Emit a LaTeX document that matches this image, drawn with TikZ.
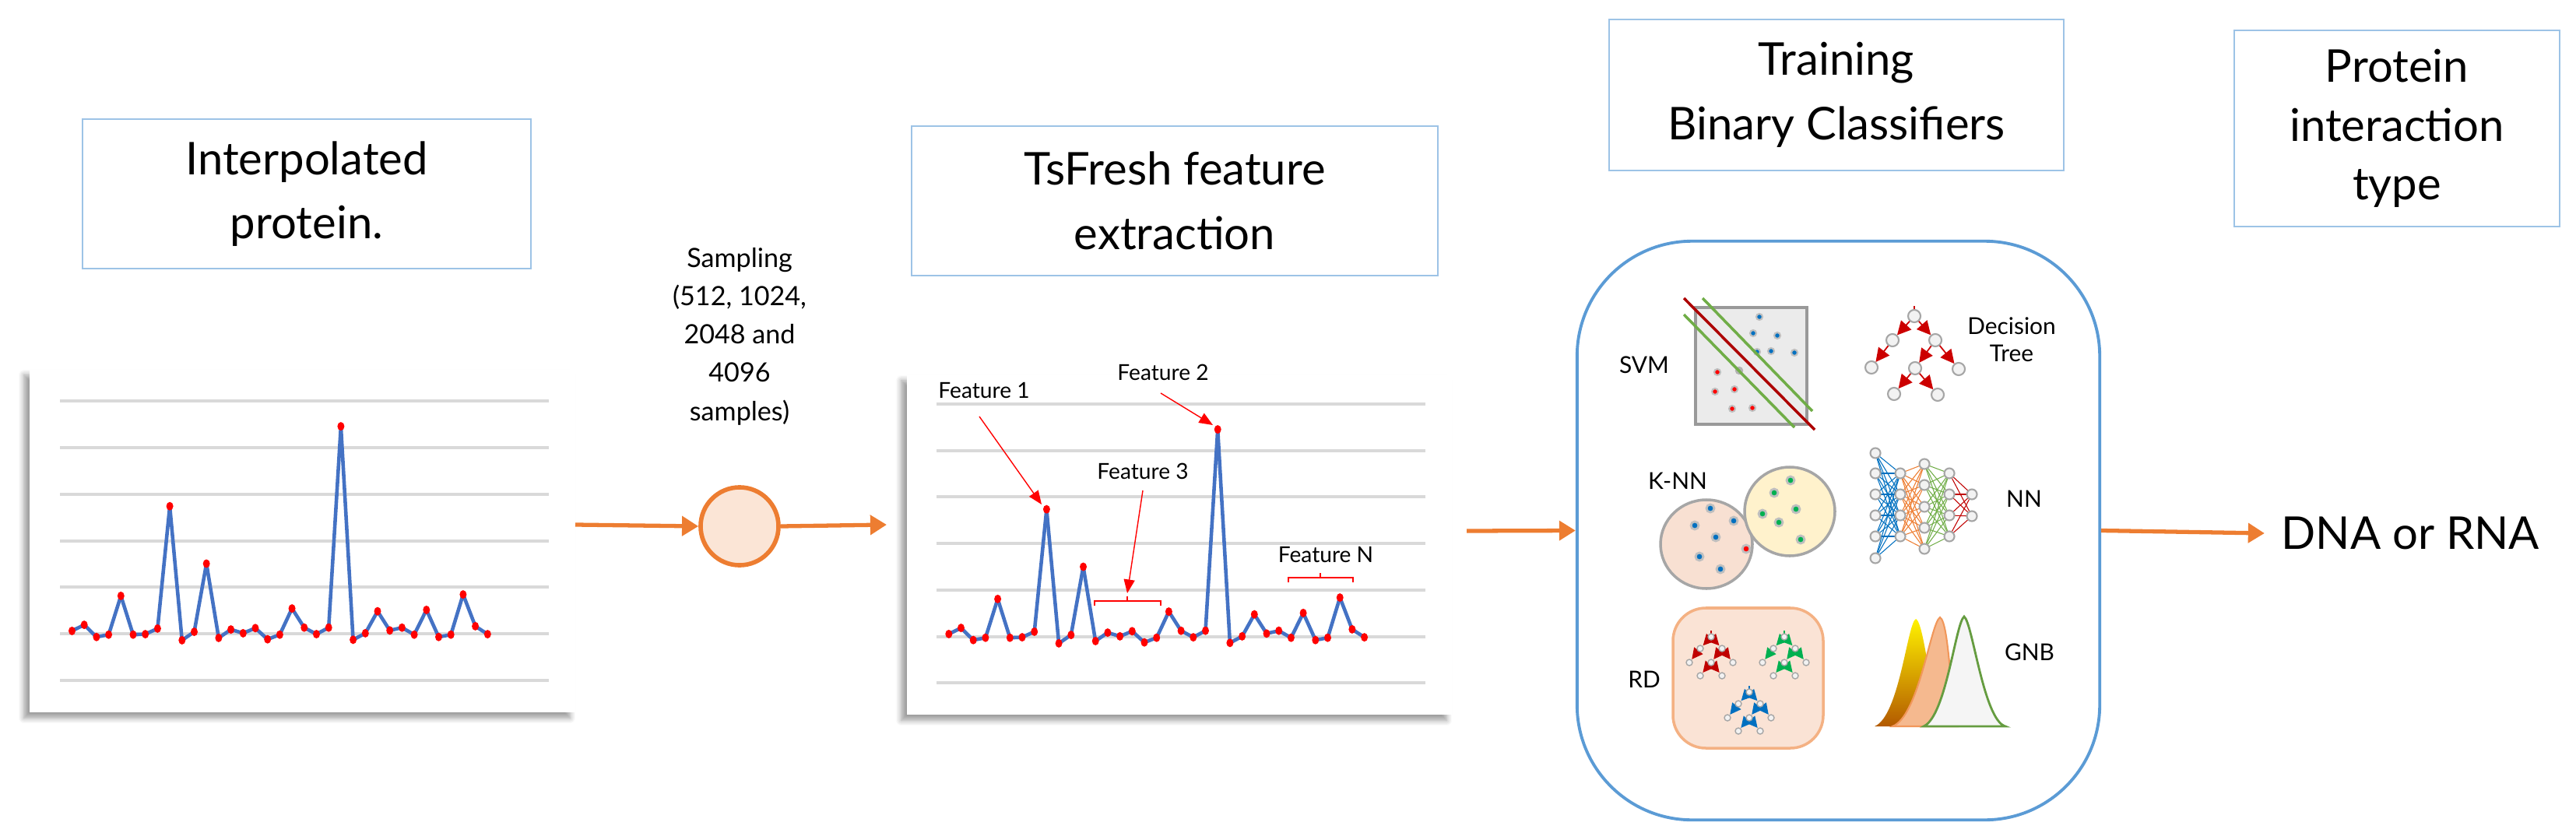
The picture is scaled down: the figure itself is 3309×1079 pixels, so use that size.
\documentclass[tikz,border=0pt]{standalone}
\usepackage{fontspec}
\setmainfont{Lato}
\usetikzlibrary{arrows.meta,shadows.blur}
\definecolor{orng}{HTML}{ED7D31}
\definecolor{peach}{HTML}{FBE5D6}
\definecolor{tbord}{HTML}{9DC3E6}
\definecolor{cbord}{HTML}{5B9BD5}
\definecolor{grid}{HTML}{D9D9D9}
\definecolor{dblue}{HTML}{4472C4}
\definecolor{mred}{HTML}{C00000}
\definecolor{mgreen}{HTML}{00B050}
\definecolor{mblue}{HTML}{0070C0}
\definecolor{svmg}{HTML}{70AD47}
\definecolor{knn1}{HTML}{F8E0D2}
\definecolor{knn2}{HTML}{FFF2CC}
\definecolor{rdfill}{HTML}{FAE3D5}
\definecolor{rdbord}{HTML}{F4B183}
\def\chartdata{0.06,0.19,-0.07,-0.02,0.81,-0.02,-0.01,0.11,2.73,-0.14,0.04,1.50,-0.09,0.09,0.01,0.12,-0.12,-0.02,0.54,0.13,-0.01,0.13,4.44,-0.13,0.01,0.48,0.07,0.13,-0.02,0.51,-0.07,-0.02,0.84,0.16,-0.01}
\newcommand\drawchart[2]{%
  \foreach \v [count=\i, remember=\v as \pv (initially 0)] in \chartdata {%
    \ifnum\i>1 \draw[dataline] ({#1+(\i-2)*15.7},{#2-\pv*60}) -- ({#1+(\i-1)*15.7},{#2-\v*60});\fi}
  \foreach \v [count=\i] in \chartdata {%
    \fill[red] ({#1+(\i-1)*15.7},{#2-\v*60}) ellipse (4.5 and 5.5);}
}
\tikzset{
  title/.style={draw=tbord, line width=0.6pt, align=center, font=\fontsize{16.5}{23.5}\selectfont, inner sep=0pt},
  chart/.style={fill=white, blur shadow={shadow xshift=-2pt, shadow yshift=-2pt, shadow blur steps=6, shadow blur radius=2pt, shadow opacity=40}},
  gridline/.style={grid, line width=1pt},
  dataline/.style={dblue, line width=1.3pt, line cap=round, line join=round},
  flow/.style={orng, line width=1.5pt, -{Triangle[length=6pt,width=7pt]}},
  feat/.style={red, line width=0.4pt, -{Triangle[length=5pt,width=4pt]}},
  flab/.style={font=\fontsize{8}{9}\selectfont, inner sep=1pt},
  clab/.style={font=\fontsize{8.5}{10}\selectfont, align=center, inner sep=1pt},
  gnode/.style={fill=white!90!gray, draw=gray!70, line width=0.6pt},
  pics/minitree/.style={code={
    \draw[#1, line width=0.5pt] (0,-8) -- (0,0);
    \foreach \p/\q in {{(0,0)}/{(-14,15)},{(0,0)}/{(14,15)},{(-14,15)}/{(-28,33)},{(14,15)}/{(0,33)},{(14,15)}/{(28,33)},{(0,33)}/{(-14,50)},{(0,33)}/{(14,50)}}
      {\draw[#1, line width=0.4pt, -{Triangle[length=4pt,width=4pt]}, shorten >=1.5pt, shorten <=1pt] \p -- \q;}
    \foreach \c in {(0,0),(-14,15),(14,15),(-28,33),(0,33),(28,33),(-14,50),(14,50)}
      {\filldraw[gnode, line width=0.4pt] \c circle (4);}
  }}
}
\begin{document}
\begin{tikzpicture}[x=0.01cm, y=-0.01cm]
\useasboundingbox (0,0) rectangle (3309,1079);
% titles
\node[title, minimum width=5.76cm, minimum height=1.92cm] (t1) at (394,249) {Interpolated\\protein.};
\node[title, minimum width=6.76cm, minimum height=1.92cm] (t2) at (1509,258) {TsFresh feature\\extraction};
\node[title, minimum width=5.83cm, minimum height=1.93cm] (t3) at (2359,122) {Training\\Binary Classifiers};
\node[title, minimum width=4.18cm, minimum height=2.51cm, font=\fontsize{16.5}{21.5}\selectfont] (t4) at (3079,165) {Protein\\interaction\\type};
% chart 1
\node[chart, minimum width=7.01cm, minimum height=4.40cm, inner sep=0pt] (c1) at (388.5,695) {};
\foreach \g in {515,575,635,695,754,814,874} \draw[gridline] (77,\g) -- (705,\g);
\drawchart{92.5}{814}
% sampling
\node[align=center, font=\fontsize{9.7}{14}\selectfont] (stxt) at (950,432) {Sampling\\(512, 1024,\\2048 and\\4096\\samples)};
\node[circle, draw=orng, fill=peach, line width=1.6pt, minimum size=1.0cm, inner sep=0pt] (samp) at (950,676) {};
\coordinate (c1e) at (739,674);
\coordinate (c2w) at (1139,674);
\draw[flow] (c1e) -- (samp.west);
\draw[flow] (samp.east) -- (c2w);
% chart 2
\node[chart, minimum width=7.00cm, minimum height=4.36cm, inner sep=0pt] (c2) at (1515,700) {};
\foreach \g in {519,579,638,698,758,818,877} \draw[gridline] (1203,\g) -- (1831,\g);
\drawchart{1218.8}{818}
\node[flab] (f1) at (1264,502) {Feature 1};
\node[flab] (f2) at (1494,478) {Feature 2};
\node[flab] (f3) at (1468,605) {Feature 3};
\node[flab] (fn) at (1703,713) {Feature N};
\coordinate (p1) at (1338,648);
\coordinate (p2) at (1558,546);
\coordinate (p3) at (1448,762);
\draw[feat] (1258,535) -- (p1);
\draw[feat] (1491,505) -- (p2);
\draw[feat] (1468,630) -- (p3);
\draw[red, line width=0.5pt] (1406,778) -- (1406,772) -- (1491,772) -- (1491,778) (1448,772) -- (1448,766);
\draw[red, line width=0.5pt] (1655,748) -- (1655,742) -- (1738,742) -- (1738,748) (1696,742) -- (1696,736);
% classifier box
\coordinate (c2e) at (1884,682);
\node[draw=cbord, line width=1.1pt, rounded corners=42pt, minimum width=6.71cm, minimum height=7.43cm, inner sep=0pt] (cls) at (2361.5,681.5) {};
\draw[flow] (c2e) -- (cls.west);
\node[font=\fontsize{16.5}{20}\selectfont, anchor=west, inner sep=0pt] (out) at (2930,685) {DNA or RNA};
\draw[flow] (cls.east) -- ([xshift=-6pt]out.west);
% SVM
\node[clab] (svm) at (2112,469) {SVM};
\filldraw[fill=black!8!white, draw=gray!80, line width=1pt] (2178,395) rectangle (2321,545);
\foreach \p in {(2260,407),(2252,428),(2283,431),(2275,451),(2305,453),(2257,452)} \filldraw[fill=mblue, draw=gray!50, line width=0.6pt] \p circle (4);
\foreach \p in {(2206,478),(2203,503),(2228,500),(2225,525),(2251,524)} \filldraw[fill=red, draw=gray!50, line width=0.6pt] \p circle (4);
\filldraw[fill=gray!60, draw=gray!60] (2234,476) circle (4.5);
\draw[svmg, line width=1pt] (2187,383) -- (2328,528);
\draw[svmg, line width=1pt] (2163,404) -- (2305,549);
\draw[mred!90!black, line width=1pt] (2163,383) -- (2331,552);
% Decision tree
\node[clab] (dt) at (2584,436) {Decision\\Tree};
\draw[red!80!black, line width=0.5pt] (2459,393) -- (2459,406);
\foreach \p/\q in {{(2459,406)}/{(2431,437)},{(2459,406)}/{(2486,437)},{(2431,437)}/{(2404,472)},{(2486,437)}/{(2460,473)},{(2486,437)}/{(2516,474)},{(2460,473)}/{(2433,506)},{(2460,473)}/{(2489,507)}}
  \draw[red!80!black, line width=0.5pt, -{Triangle[length=5pt,width=5pt]}, shorten >=2.5pt, shorten <=2pt] \p -- \q;
\foreach \c in {(2459,406),(2431,437),(2486,437),(2404,472),(2460,473),(2516,474),(2433,506),(2489,507)}
  \filldraw[gnode] \c circle (8);
% K-NN
\node[clab] (knn) at (2155,618) {K-NN};
\filldraw[fill=knn1, draw=gray!70, line width=1pt] (2192,699) ellipse (59 and 57);
\filldraw[fill=knn2, draw=gray!70, line width=1pt] (2299,657) ellipse (58 and 57);
\foreach \p in {(2197,653),(2177,675),(2227,669),(2204,690),(2183,715),(2210,731)} \filldraw[fill=mblue, draw=gray!50, line width=0.8pt] \p circle (5);
\filldraw[fill=red, draw=gray!50, line width=0.8pt] (2243,705) circle (5);
\foreach \p in {(2300,617),(2279,633),(2307,654),(2264,660),(2285,671),(2313,693)} \filldraw[fill=mgreen, draw=gray!50, line width=0.8pt] \p circle (5);
% NN
\node[clab] (nn) at (2600,641) {NN};
\def\LA{582,608,635,662,689,717}
\def\LB{608,635,662,689}
\def\LC{596,623,651,678,705}
\def\LD{608,635,662,689}
\def\LE{635,663}
\foreach \a in \LA \foreach \b in \LB \draw[mblue, line width=0.3pt] (2409,\a) -- (2441,\b);
\foreach \a in \LB \foreach \b in \LC \draw[orng, line width=0.3pt] (2441,\a) -- (2472,\b);
\foreach \a in \LC \foreach \b in \LD \draw[svmg, line width=0.3pt] (2472,\a) -- (2504,\b);
\foreach \a in \LD \foreach \b in \LE \draw[mred, line width=0.3pt] (2504,\a) -- (2533,\b);
\foreach \a in \LA \filldraw[gnode] (2409,\a) circle (6.5);
\foreach \a in \LB \filldraw[gnode] (2441,\a) circle (6.5);
\foreach \a in \LC \filldraw[gnode] (2472,\a) circle (6.5);
\foreach \a in \LD \filldraw[gnode] (2504,\a) circle (6.5);
\foreach \a in \LE \filldraw[gnode] (2533,\a) circle (6.5);
% RD
\node[clab] (rd) at (2112,873) {RD};
\filldraw[fill=rdfill, draw=rdbord, line width=1pt, rounded corners=12pt] (2149,781) rectangle (2342,961);
\pic at (2198,818) {minitree=mred};
\pic at (2292,818) {minitree=mgreen};
\pic at (2247,889) {minitree=mblue};
% GNB
\node[clab] (gnb) at (2607,838) {GNB};
\shade[bottom color=orange!70!black, top color=yellow!90!orange] (2408,933) .. controls (2440,920) and (2450,800) .. (2461,795) .. controls (2472,800) and (2480,900) .. (2494,933) -- cycle;
\filldraw[fill=rdbord!90!white, draw=orng!80, line width=0.6pt] (2431,933) .. controls (2465,920) and (2480,800) .. (2492,793) .. controls (2504,800) and (2505,900) .. (2515,933) -- cycle;
\filldraw[fill=black!4!white, draw=svmg!90!black, line width=0.8pt] (2471,933) .. controls (2500,920) and (2512,800) .. (2523,792) .. controls (2534,800) and (2548,925) .. (2576,933) -- cycle;
\end{tikzpicture}
\end{document}
